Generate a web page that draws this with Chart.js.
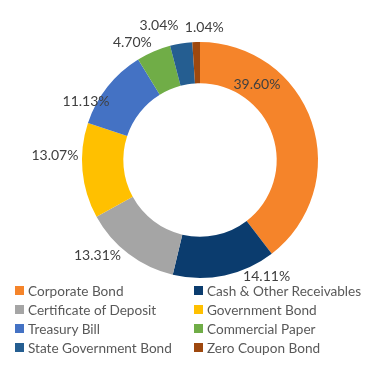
<!DOCTYPE html>
<html>
<head>
<meta charset="utf-8">
<script src="https://cdn.jsdelivr.net/npm/chart.js@4"></script>
<style>
  body { margin: 0; background: #fff; width: 369px; height: 390px; position: relative; overflow: hidden; }
  #wrap { position: absolute; left: 0; top: 0; width: 369px; height: 285px; }
  #legend { position: absolute; left: 15px; top: 281px; display: grid; grid-template-columns: 179px 175px; font-family: Lato, "Open Sans", sans-serif; font-size: 13.6px; color: #595959; }
  .item { display: flex; align-items: center; height: 19px; white-space: nowrap; }
  .sw { width: 9px; height: 9px; margin-right: 4px; }
</style>
</head>
<body>
<div id="wrap"><canvas id="holdings"></canvas></div>
<div id="legend"></div>
<script>
// Portfolio allocation (%)
const categories = ["Corporate Bond", "Cash & Other Receivables", "Certificate of Deposit", "Government Bond",
                    "Treasury Bill", "Commercial Paper", "State Government Bond", "Zero Coupon Bond"];
const weights = [39.60, 14.11, 13.31, 13.07, 11.13, 4.70, 3.04, 1.04];
const colors = ["#F5842A", "#0B3C6E", "#A5A5A5", "#FFC000", "#4472C4", "#70AD47", "#255E91", "#9E480E"];

// where each value label sits: fraction along its arc, distance as a share of the outer radius
const labelSpots = [[0.26, 0.80], [0.15, 1.135], [0.70, 1.19], [0.645, 1.23],
                    [0.22, 1.085], [0.10, 1.15], [-0.2, 1.195], [1.5, 1.12]];

const valueLabels = {
    id: "valueLabels",
    afterDatasetsDraw(chart) {
        const ctx = chart.ctx;
        const arcs = chart.getDatasetMeta(0).data;
        ctx.save();
        ctx.font = "14px Lato, 'Open Sans', sans-serif";
        ctx.fillStyle = "#404040";
        ctx.textAlign = "center";
        ctx.textBaseline = "middle";
        arcs.forEach(function(arc, i) {
            const p = arc.getProps(["x", "y", "startAngle", "endAngle", "outerRadius"], true);
            const spot = labelSpots[i];
            const a = p.startAngle + (p.endAngle - p.startAngle) * spot[0];
            const r = p.outerRadius * spot[1];
            ctx.fillText(weights[i].toFixed(2) + "%", p.x + Math.cos(a) * r, p.y + Math.sin(a) * r);
        });
        ctx.restore();
    }
};

const chart = new Chart(document.getElementById("holdings"), {
    type: "doughnut",
    data: {
        labels: categories,
        datasets: [{
            data: weights,
            backgroundColor: colors,
            borderWidth: 0
        }]
    },
    options: {
        responsive: true,
        maintainAspectRatio: false,
        animation: false,
        cutout: "65%",
        layout: { padding: { left: 31, right: 0, top: 42, bottom: 7 } },
        plugins: {
            legend: { display: false },
            tooltip: { enabled: false }
        }
    },
    plugins: [valueLabels]
});

// legend laid out in two columns
const legend = document.getElementById("legend");
categories.forEach(function(name, i) {
    const item = document.createElement("div");
    item.className = "item";
    item.innerHTML = '<span class="sw" style="background:' + colors[i] + '"></span>' + name.replace("&", "&amp;");
    legend.appendChild(item);
});
</script>
</body>
</html>
